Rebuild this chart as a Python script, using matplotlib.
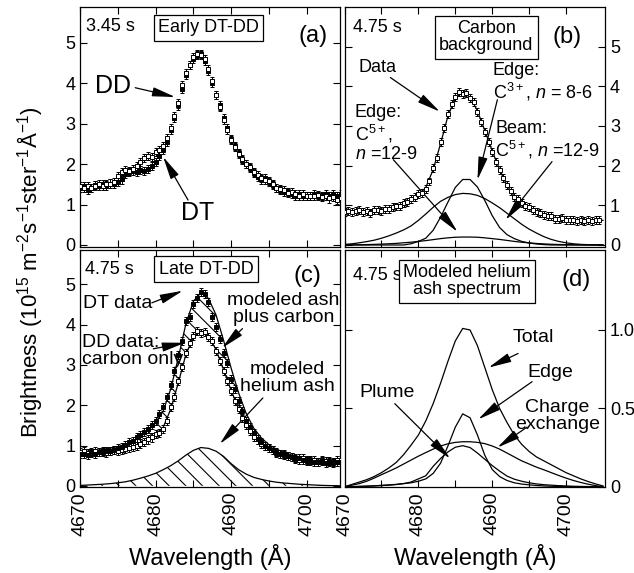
import numpy as np
import matplotlib
matplotlib.use('Agg')
import matplotlib.pyplot as plt

plt.rcParams['font.family'] = ['Liberation Sans', 'DejaVu Sans']
plt.rcParams['mathtext.fontset'] = 'custom'
plt.rcParams['mathtext.rm'] = 'Liberation Sans'
plt.rcParams['mathtext.it'] = 'Liberation Sans:italic'
plt.rcParams['hatch.linewidth'] = 0.8

# wavelength grids (Angstrom): measured points every 0.5 A, model curves every 1 A
lam_data = np.arange(4670.0, 4705.0, 0.5)
lam_fit = np.arange(4670.0, 4706.0, 1.0)

# (a) early DT-DD, 3.45 s
a_dd = [1.45, 1.42, 1.45, 1.40, 1.47, 1.50, 1.46, 1.50, 1.52, 1.55,
        1.70, 1.80, 1.85, 1.82, 1.88, 1.95, 2.05, 2.15, 2.20, 2.18,
        2.30, 2.35, 2.45, 2.65, 2.90, 3.20, 3.50, 3.95, 4.25, 4.45,
        4.65, 4.72, 4.70, 4.60, 4.35, 4.05, 3.72, 3.42, 3.10, 2.85,
        2.60, 2.42, 2.25, 2.12, 2.00, 1.92, 1.80, 1.73, 1.65, 1.60,
        1.58, 1.50, 1.42, 1.38, 1.35, 1.28, 1.30, 1.25, 1.22, 1.25,
        1.20, 1.22, 1.20, 1.24, 1.18, 1.20, 1.15, 1.18, 1.12, 1.16]
a_dt = [1.40, 1.45, 1.35, 1.42, 1.48, 1.45, 1.50, 1.47, 1.52, 1.50,
        1.55, 1.62, 1.75, 1.80, 1.82, 1.80, 1.85, 1.83, 1.88, 1.95,
        2.05, 2.20, 2.35, 2.55, 2.85, 3.15, 3.45, 3.85, 4.20, 4.45,
        4.60, 4.70, 4.72, 4.55, 4.30, 4.00, 3.70, 3.45, 3.15, 2.90,
        2.62, 2.45, 2.28, 2.10, 2.00, 1.90, 1.78, 1.68, 1.62, 1.65,
        1.55, 1.48, 1.42, 1.35, 1.30, 1.30, 1.25, 1.22, 1.25, 1.20,
        1.22, 1.20, 1.25, 1.20, 1.22, 1.25, 1.20, 1.25, 1.22, 1.26]

# (b) carbon background, 4.75 s (DD data)
b_data = [0.83, 0.86, 0.82, 0.85, 0.87, 0.83, 0.86, 0.81, 0.87, 0.88,
          0.86, 0.90, 0.91, 0.95, 0.97, 0.99, 1.05, 1.08, 1.15, 1.20,
          1.28, 1.30, 1.42, 1.60, 1.95, 2.20, 2.60, 2.95, 3.30, 3.55,
          3.72, 3.85, 3.80, 3.82, 3.70, 3.60, 3.35, 3.10, 2.85, 2.60,
          2.35, 2.10, 1.90, 1.68, 1.50, 1.35, 1.22, 1.15, 1.05, 0.98,
          0.95, 0.88, 0.82, 0.80, 0.76, 0.73, 0.72, 0.66, 0.65, 0.68,
          0.63, 0.62, 0.64, 0.60, 0.63, 0.61, 0.62, 0.60, 0.64, 0.63]
b_total = [0.84, 0.84, 0.85, 0.86, 0.88, 0.90, 0.93, 0.97, 1.03, 1.12,
           1.25, 1.45, 1.90, 2.55, 3.25, 3.70, 3.84, 3.72, 3.38, 2.88,
           2.37, 1.90, 1.50, 1.22, 1.03, 0.90, 0.82, 0.76, 0.71, 0.67,
           0.65, 0.63, 0.62, 0.62, 0.62, 0.62]
b_edge_c3 = [0, 0, 0, 0, 0, 0, 0, 0, 0, 0.03,
             0.09, 0.17, 0.37, 0.70, 1.08, 1.45, 1.65, 1.65, 1.46, 1.12,
             0.74, 0.44, 0.26, 0.16, 0.09, 0.05, 0.025, 0.01, 0, 0,
             0, 0, 0, 0, 0, 0]
b_beam_c5 = [0.015, 0.03, 0.055, 0.085, 0.12, 0.17, 0.23, 0.30, 0.38, 0.48,
             0.62, 0.78, 0.95, 1.10, 1.20, 1.27, 1.30, 1.29, 1.25, 1.17,
             1.06, 0.94, 0.80, 0.66, 0.52, 0.40, 0.30, 0.21, 0.14, 0.09,
             0.055, 0.03, 0.015, 0.008, 0.004, 0.002]
b_edge_c5 = [0, 0.002, 0.005, 0.01, 0.015, 0.022, 0.03, 0.04, 0.055, 0.07,
             0.09, 0.11, 0.135, 0.16, 0.18, 0.195, 0.20, 0.20, 0.195, 0.18,
             0.16, 0.14, 0.115, 0.09, 0.07, 0.052, 0.038, 0.027, 0.018, 0.012,
             0.008, 0.005, 0.003, 0.001, 0, 0]

# (c) late DT-DD, 4.75 s
c_dt = [0.78, 0.80, 0.76, 0.82, 0.80, 0.84, 0.83, 0.87, 0.86, 0.90,
        0.93, 0.97, 1.02, 1.08, 1.12, 1.20, 1.26, 1.33, 1.40, 1.52,
        1.60, 1.78, 1.95, 2.20, 2.50, 2.85, 3.25, 3.60, 4.10, 4.20,
        4.50, 4.65, 4.80, 4.75, 4.55, 4.20, 3.95, 3.65, 3.30, 3.05,
        2.65, 2.40, 2.10, 1.85, 1.60, 1.45, 1.30, 1.15, 1.08, 0.98,
        0.95, 0.88, 0.85, 0.80, 0.78, 0.74, 0.72, 0.68, 0.70, 0.65,
        0.62, 0.64, 0.60, 0.58, 0.62, 0.57, 0.60, 0.56, 0.60, 0.58]
c_dd = b_data
c_ash = [0.01, 0.02, 0.03, 0.04, 0.055, 0.075, 0.10, 0.14, 0.19, 0.245,
         0.31, 0.40, 0.50, 0.62, 0.76, 0.88, 0.95, 0.93, 0.86, 0.73,
         0.55, 0.40, 0.29, 0.21, 0.16, 0.12, 0.09, 0.07, 0.055, 0.04,
         0.03, 0.02, 0.012, 0.006, 0.003, 0.0]

# (d) modeled helium ash spectrum
d_total = [0.0, 0.015, 0.03, 0.045, 0.065, 0.09, 0.12, 0.155, 0.205, 0.265,
           0.33, 0.42, 0.53, 0.66, 0.80, 0.93, 1.01, 1.00, 0.90, 0.76,
           0.62, 0.50, 0.41, 0.33, 0.27, 0.225, 0.19, 0.165, 0.14, 0.115,
           0.09, 0.07, 0.05, 0.033, 0.018, 0.005]
d_edge = [0, 0, 0.002, 0.004, 0.006, 0.009, 0.012, 0.015, 0.02, 0.025,
          0.035, 0.05, 0.085, 0.15, 0.26, 0.38, 0.465, 0.44, 0.33, 0.20,
          0.11, 0.065, 0.04, 0.025, 0.017, 0.012, 0.008, 0.005, 0.003, 0.002,
          0.001, 0, 0, 0, 0, 0]
d_cx = [0.0, 0.01, 0.02, 0.035, 0.055, 0.077, 0.098, 0.12, 0.145, 0.17,
        0.195, 0.218, 0.24, 0.26, 0.274, 0.283, 0.287, 0.287, 0.283, 0.275,
        0.26, 0.24, 0.215, 0.19, 0.165, 0.145, 0.125, 0.108, 0.09, 0.072,
        0.055, 0.04, 0.027, 0.016, 0.007, 0.0]
d_plume = [0, 0.001, 0.002, 0.003, 0.005, 0.007, 0.01, 0.014, 0.02, 0.03,
           0.05, 0.07, 0.13, 0.18, 0.222, 0.252, 0.262, 0.25, 0.215, 0.175,
           0.135, 0.10, 0.068, 0.048, 0.035, 0.025, 0.018, 0.013, 0.01, 0.007,
           0.005, 0.003, 0.002, 0.001, 0, 0]

xtick_pos = list(range(4670, 4705, 5))
xtick_lab = ['4670', '', '4680', '', '4690', '', '4700']

fig = plt.figure(figsize=(6.34, 5.73), dpi=100)
ax_a = fig.add_axes([0.1262, 0.569, 0.410, 0.419])
ax_b = fig.add_axes([0.5435, 0.569, 0.411, 0.419])
ax_c = fig.add_axes([0.1262, 0.150, 0.410, 0.4136])
ax_d = fig.add_axes([0.5435, 0.150, 0.411, 0.4136])

arrow = dict(arrowstyle='-|>,head_length=1.0,head_width=0.2', color='k',
             lw=0.9, shrinkA=0, shrinkB=0, mutation_scale=14)
box = dict(boxstyle='square,pad=0.25', fc='white', ec='k', lw=0.9)


def point(ax, lam, vals, filled):
    ax.errorbar(lam, vals, yerr=0.1, fmt='s', ms=3.4, mew=0.7,
                mfc='k' if filled else 'white', mec='k', ecolor='k',
                elinewidth=0.7, capsize=1.5, capthick=0.7, zorder=3)


def style(ax, xmax, ylim, yticks, right_labels, bottom_labels):
    ax.set_xlim(4670, xmax)
    ax.set_ylim(*ylim)
    ax.set_xticks(xtick_pos)
    ax.set_yticks(yticks)
    ax.tick_params(direction='in', top=True, right=True, length=5,
                   width=0.8, labelsize=13)
    if bottom_labels:
        ax.set_xticklabels(xtick_lab, rotation=90, fontsize=14)
        ax.set_xlabel('Wavelength (Å)', fontsize=17, labelpad=6)
    else:
        ax.set_xticklabels([])
    if right_labels:
        ax.yaxis.tick_right()
        ax.yaxis.set_ticks_position('both')
        ax.tick_params(labelleft=False, labelright=True)
    for s in ax.spines.values():
        s.set_linewidth(0.9)


# ---- (a)
point(ax_a, lam_data, a_dt, True)
point(ax_a, lam_data, a_dd, False)
style(ax_a, 4704.4, (-0.05, 5.89), [0, 1, 2, 3, 4, 5], False, False)
ax_a.set_yticklabels(['0', '1', '2', '3', '4', '5'])
ax_a.text(4670.8, 5.4, '3.45 s', fontsize=13, va='center')
ax_a.text(4687.0, 5.37, 'Early DT-DD', fontsize=13, ha='center', va='center', bbox=box)
ax_a.text(4700.9, 5.17, '(a)', fontsize=17, ha='center', va='center')
ax_a.text(4674.4, 3.94, 'DD', fontsize=18, ha='center', va='center')
ax_a.annotate('', xy=(4682.6, 3.66), xytext=(4677.3, 3.89), arrowprops=arrow)
ax_a.text(4685.5, 0.79, 'DT', fontsize=18, ha='center', va='center')
ax_a.annotate('', xy=(4681.0, 2.18), xytext=(4684.3, 1.11), arrowprops=arrow)

# ---- (b)
ax_b.plot(lam_fit, b_total, color='k', lw=0.9)
ax_b.plot(lam_fit, b_edge_c3, color='k', lw=0.9)
ax_b.plot(lam_fit, b_beam_c5, color='k', lw=0.9)
ax_b.plot(lam_fit, b_edge_c5, color='k', lw=0.9)
point(ax_b, lam_data, b_data, False)
style(ax_b, 4705.3, (-0.05, 6.0), [0, 1, 2, 3, 4, 5], True, False)
ax_b.text(4671.1, 5.48, '4.75 s', fontsize=13, va='center')
ax_b.text(4689.2, 5.23, 'Carbon\nbackground', fontsize=13, ha='center', va='center',
          bbox=box, linespacing=1.0)
ax_b.text(4700.2, 5.25, '(b)', fontsize=17, ha='center', va='center')
ax_b.text(4674.4, 4.47, 'Data', fontsize=13, ha='center', va='center')
ax_b.annotate('', xy=(4682.9, 3.36), xytext=(4676.2, 4.22), arrowprops=arrow)
ax_b.text(4690.1, 4.09, 'Edge:\nC$^{3+}$, $n$ = 8-6', fontsize=13, va='center', linespacing=1.1)
ax_b.annotate('', xy=(4688.0, 1.64), xytext=(4690.7, 3.66), arrowprops=arrow)
ax_b.text(4690.4, 2.63, 'Beam:\nC$^{5+}$, $n$ =12-9', fontsize=13, va='center', linespacing=1.1)
ax_b.annotate('', xy=(4691.8, 0.63), xytext=(4698.1, 2.10), arrowprops=arrow)
ax_b.text(4671.4, 2.8, 'Edge:\nC$^{5+}$,\n$n$ =12-9', fontsize=13, va='center', linespacing=1.1)
ax_b.annotate('', xy=(4685.3, 0.33), xytext=(4676.6, 2.15), arrowprops=arrow)

# ---- (c)
c_carbon = np.array(b_total)
c_upper = c_carbon + np.array(c_ash)
ax_c.fill_between(lam_fit, c_carbon, c_upper, facecolor='none', edgecolor='k',
                  hatch='\\\\', linewidth=0)
ax_c.plot(lam_fit, c_carbon, color='k', lw=0.9)
ax_c.plot(lam_fit, c_upper, color='k', lw=0.9)
ax_c.fill_between(lam_fit, 0, c_ash, facecolor='none', edgecolor='k',
                  hatch='\\\\', linewidth=0)
ax_c.plot(lam_fit, c_ash, color='k', lw=0.9)
point(ax_c, lam_data, c_dd, False)
point(ax_c, lam_data, c_dt, True)
style(ax_c, 4704.4, (-0.03, 5.85), [0, 1, 2, 3, 4, 5], False, True)
ax_c.text(4670.7, 5.38, '4.75 s', fontsize=13, va='center')
ax_c.text(4686.7, 5.38, 'Late DT-DD', fontsize=13, ha='center', va='center', bbox=box)
ax_c.text(4700.1, 5.2, '(c)', fontsize=17, ha='center', va='center')
ax_c.text(4675.0, 4.52, 'DT data', fontsize=14, ha='center', va='center')
ax_c.annotate('', xy=(4683.6, 4.84), xytext=(4679.5, 4.54), arrowprops=arrow)
ax_c.text(4670.3, 3.35, 'DD data:\ncarbon only', fontsize=14, va='center', linespacing=1.0)
ax_c.annotate('', xy=(4683.9, 3.55), xytext=(4679.7, 3.40), arrowprops=arrow)
ax_c.text(4696.9, 4.39, 'modeled ash\nplus carbon', fontsize=14, ha='center', va='center',
          linespacing=1.0)
ax_c.annotate('', xy=(4688.8, 3.42), xytext=(4691.5, 3.90), arrowprops=arrow)
ax_c.text(4697.4, 2.68, 'modeled\nhelium ash', fontsize=14, ha='center', va='center',
          linespacing=1.0)
ax_c.annotate('', xy=(4688.5, 1.04), xytext=(4694.2, 2.18), arrowprops=arrow)

# ---- (d)
for curve in (d_total, d_edge, d_cx, d_plume):
    ax_d.plot(lam_fit, curve, color='k', lw=0.9)
style(ax_d, 4705.3, (-0.002, 1.51), [0, 0.5, 1.0], True, True)
ax_d.set_yticklabels(['0', '0.5', '1.0'])
ax_d.text(4671.1, 1.35, '4.75 s', fontsize=13, va='center')
ax_d.text(4686.6, 1.31, 'Modeled helium\nash spectrum', fontsize=13, ha='center',
          va='center', bbox=box, linespacing=1.0)
ax_d.text(4701.3, 1.32, '(d)', fontsize=17, ha='center', va='center')
ax_d.text(4695.6, 0.95, 'Total', fontsize=14, ha='center', va='center')
ax_d.annotate('', xy=(4689.5, 0.76), xytext=(4693.5, 0.85), arrowprops=arrow)
ax_d.text(4697.9, 0.73, 'Edge', fontsize=14, ha='center', va='center')
ax_d.annotate('', xy=(4688.1, 0.43), xytext=(4695.4, 0.67), arrowprops=arrow)
ax_d.text(4698.8, 0.45, 'Charge\nexchange', fontsize=14, ha='center', va='center',
          linespacing=1.0)
ax_d.annotate('', xy=(4690.7, 0.25), xytext=(4694.7, 0.38), arrowprops=arrow)
ax_d.text(4675.8, 0.60, 'Plume', fontsize=14, ha='center', va='center')
ax_d.annotate('', xy=(4684.3, 0.18), xytext=(4676.8, 0.53), arrowprops=arrow)

fig.text(0.047, 0.525, 'Brightness (10$^{15}$ m$^{-2}$s$^{-1}$ster$^{-1}$Å$^{-1}$)',
         rotation=90, ha='center', va='center', fontsize=16)

fig.savefig('out.png', dpi=100)
plt.close(fig)
